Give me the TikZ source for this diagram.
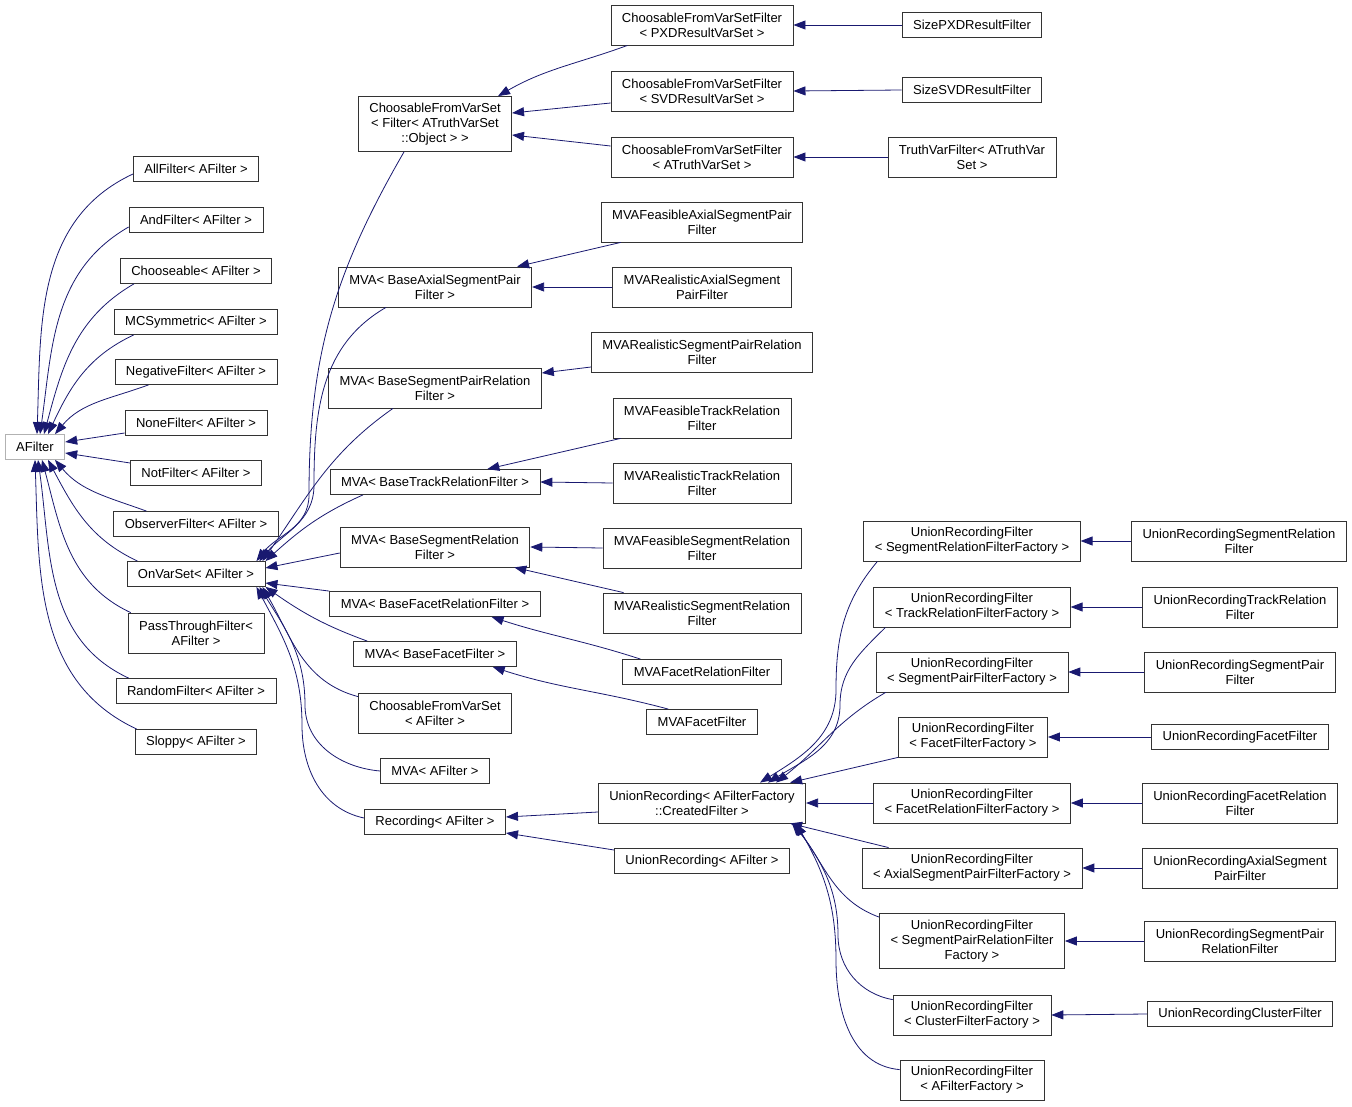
\documentclass[tikz,border=0pt]{standalone}
\usepackage{fontspec}
\setmainfont{Liberation Sans}
\usepackage{xcolor}
\usetikzlibrary{arrows.meta}
\definecolor{dxnavy}{HTML}{191970}
\tikzset{
  cls/.style={draw=black!80, line width=0.8pt, fill=white, inner xsep=11pt, inner ysep=0pt,
    minimum height=25pt, align=center, font=\fontsize{13}{15}\selectfont},
  twoline/.style={cls, minimum height=40pt},
  threeline/.style={cls, minimum height=55pt},
  rootcls/.style={cls, draw=black!30},
  inh/.style={draw=dxnavy, line width=0.8pt, -{Triangle[length=12pt,width=9pt]}},
}

\begin{document}
\begin{tikzpicture}[x=1pt,y=1pt]
\useasboundingbox (0,0) rectangle (1352,-1107);

% base class
\node[rootcls] (AFilter) at (35,-447) {AFilter};

% first level
\node[cls] (AllF)     at (196,-169) {AllFilter< AFilter >};
\node[cls] (AndF)     at (196,-220) {AndFilter< AFilter >};
\node[cls] (ChooseF)  at (196,-271) {Chooseable< AFilter >};
\node[cls] (MCSymF)   at (196,-322) {MCSymmetric< AFilter >};
\node[cls] (NegF)     at (196,-372) {NegativeFilter< AFilter >};
\node[cls] (NoneF)    at (196,-423) {NoneFilter< AFilter >};
\node[cls] (NotF)     at (196,-473) {NotFilter< AFilter >};
\node[cls] (ObsF)     at (196,-524) {ObserverFilter< AFilter >};
\node[cls] (OnVarSet) at (196,-574) {OnVarSet< AFilter >};
\node[twoline] (PassF) at (196,-633) {PassThroughFilter<\\AFilter >};
\node[cls] (RandF)    at (196,-691) {RandomFilter< AFilter >};
\node[cls] (SloppyF)  at (196,-742) {Sloppy< AFilter >};

% second level
\node[threeline] (CFVSObj) at (435,-124) {ChoosableFromVarSet\\< Filter< ATruthVarSet\\::Object > >};
\node[twoline] (MVAAxial)      at (435,-287) {MVA< BaseAxialSegmentPair\\Filter >};
\node[twoline] (MVASegPairRel) at (435,-388) {MVA< BaseSegmentPairRelation\\Filter >};
\node[cls]     (MVATrackRel)   at (435,-482) {MVA< BaseTrackRelationFilter >};
\node[twoline] (MVASegRel)     at (435,-547) {MVA< BaseSegmentRelation\\Filter >};
\node[cls]     (MVAFacetRel)   at (435,-604) {MVA< BaseFacetRelationFilter >};
\node[cls]     (MVAFacet)      at (435,-654) {MVA< BaseFacetFilter >};
\node[twoline] (CFVSAF)        at (435,-713) {ChoosableFromVarSet\\< AFilter >};
\node[cls]     (MVAAF)         at (435,-771) {MVA< AFilter >};
\node[cls]     (RecAF)         at (435,-822) {Recording< AFilter >};

% third level
\node[twoline] (CFVSFPXD)          at (702,-25)  {ChoosableFromVarSetFilter\\< PXDResultVarSet >};
\node[twoline] (CFVSFSVD)          at (702,-91)  {ChoosableFromVarSetFilter\\< SVDResultVarSet >};
\node[twoline] (CFVSFTruth)        at (702,-157) {ChoosableFromVarSetFilter\\< ATruthVarSet >};
\node[twoline] (MVAFeasAxial)      at (702,-222) {MVAFeasibleAxialSegmentPair\\Filter};
\node[twoline] (MVARealAxial)      at (702,-287) {MVARealisticAxialSegment\\PairFilter};
\node[twoline] (MVARealSegPairRel) at (702,-352) {MVARealisticSegmentPairRelation\\Filter};
\node[twoline] (MVAFeasTrack)      at (702,-418) {MVAFeasibleTrackRelation\\Filter};
\node[twoline] (MVARealTrack)      at (702,-483) {MVARealisticTrackRelation\\Filter};
\node[twoline] (MVAFeasSegRel)     at (702,-548) {MVAFeasibleSegmentRelation\\Filter};
\node[twoline] (MVARealSegRel)     at (702,-613) {MVARealisticSegmentRelation\\Filter};
\node[cls]     (MVAFacetRelF)      at (702,-672) {MVAFacetRelationFilter};
\node[cls]     (MVAFacetF)         at (702,-722) {MVAFacetFilter};
\node[twoline] (URCreated)         at (702,-803) {UnionRecording< AFilterFactory\\::CreatedFilter >};
\node[cls]     (URAF)              at (702,-861) {UnionRecording< AFilter >};

% fourth level
\node[cls]     (SizePXD)       at (972,-25)   {SizePXDResultFilter};
\node[cls]     (SizeSVD)       at (972,-90)   {SizeSVDResultFilter};
\node[twoline] (TruthVar)      at (972,-157)  {TruthVarFilter< ATruthVar\\Set >};
\node[twoline] (URFSegRel)     at (972,-541)  {UnionRecordingFilter\\< SegmentRelationFilterFactory >};
\node[twoline] (URFTrack)      at (972,-607)  {UnionRecordingFilter\\< TrackRelationFilterFactory >};
\node[twoline] (URFSegPair)    at (972,-672)  {UnionRecordingFilter\\< SegmentPairFilterFactory >};
\node[twoline] (URFFacet)      at (973,-737)  {UnionRecordingFilter\\< FacetFilterFactory >};
\node[twoline] (URFFacetRel)   at (972,-803)  {UnionRecordingFilter\\< FacetRelationFilterFactory >};
\node[twoline] (URFAxial)      at (972,-868)  {UnionRecordingFilter\\< AxialSegmentPairFilterFactory >};
\node[threeline] (URFSegPairRel) at (972,-941) {UnionRecordingFilter\\< SegmentPairRelationFilter\\Factory >};
\node[twoline] (URFCluster)    at (972,-1015) {UnionRecordingFilter\\< ClusterFilterFactory >};
\node[twoline] (URFAFF)        at (972,-1080) {UnionRecordingFilter\\< AFilterFactory >};

% fifth level
\node[twoline] (URSegRel)     at (1239,-541) {UnionRecordingSegmentRelation\\Filter};
\node[twoline] (URTrack)      at (1240,-607) {UnionRecordingTrackRelation\\Filter};
\node[twoline] (URSegPair)    at (1240,-672) {UnionRecordingSegmentPair\\Filter};
\node[cls]     (URFacet)      at (1240,-737) {UnionRecordingFacetFilter};
\node[twoline] (URFacetRel)   at (1240,-803) {UnionRecordingFacetRelation\\Filter};
\node[twoline] (URAxial)      at (1240,-868) {UnionRecordingAxialSegment\\PairFilter};
\node[twoline] (URSegPairRel) at (1240,-941) {UnionRecordingSegmentPair\\RelationFilter};
\node[cls]     (URCluster)    at (1240,-1014) {UnionRecordingClusterFilter};

% edges into AFilter
\draw[inh] ([yshift=-5pt]AllF.west) to[out=205,in=88] ([xshift=2pt]AFilter.north);
\draw[inh] ([yshift=-7pt]AndF.west) to[out=210,in=82] ([xshift=5pt]AFilter.north);
\draw[inh] ([xshift=14pt]ChooseF.south west) to[out=210,in=75] ([xshift=9pt]AFilter.north);
\draw[inh] ([xshift=20pt]MCSymF.south west) to[out=205,in=65] ([xshift=13pt]AFilter.north);
\draw[inh] ([xshift=34pt]NegF.south west) to[out=200,in=50] ([xshift=20pt]AFilter.north);
\draw[inh] ([yshift=-10pt]NoneF.west) -- ([yshift=5pt]AFilter.east);
\draw[inh] ([yshift=10pt]NotF.west) -- ([yshift=-6pt]AFilter.east);
\draw[inh] ([xshift=33pt]ObsF.north west) to[out=160,in=-50] ([xshift=20pt]AFilter.south);
\draw[inh] ([xshift=11pt]OnVarSet.north west) to[out=155,in=-62] ([xshift=13pt]AFilter.south);
\draw[inh] ([xshift=3pt]PassF.north west) to[out=155,in=-75] ([xshift=7pt]AFilter.south);
\draw[inh] ([xshift=13pt]RandF.north west) to[out=155,in=-82] ([xshift=3pt]AFilter.south);
\draw[inh] ([xshift=2pt]SloppyF.north west) to[out=155,in=-88] (AFilter.south);

% edges into OnVarSet
\draw[inh] ([xshift=-31pt]CFVSObj.south) to[out=-120,in=90] (309,-495)
  to[out=-90,in=52] ([xshift=-9pt]OnVarSet.north east);
\draw[inh] ([xshift=-49pt]MVAAxial.south) to[out=-150,in=90] (314,-485)
  to[out=-90,in=50] ([xshift=-6pt]OnVarSet.north east);
\draw[inh] ([xshift=-42pt]MVASegPairRel.south) to[out=-145,in=55] ([xshift=-3pt]OnVarSet.north east);
\draw[inh] ([xshift=-72pt]MVATrackRel.south) to[out=-156,in=42] (OnVarSet.north east);
\draw[inh] ([yshift=-6pt]MVASegRel.west) -- ([yshift=6pt]OnVarSet.east);
\draw[inh] (MVAFacetRel.north west) -- ([yshift=-9pt]OnVarSet.east);
\draw[inh] ([xshift=14pt]MVAFacet.north west) to[out=160,in=-35] (OnVarSet.south east);
\draw[inh] ([yshift=-4pt]CFVSAF.north west) to[out=165,in=-60] ([xshift=-3pt]OnVarSet.south east);
\draw[inh] (MVAAF.west) to[out=175,in=-90] (305,-705)
  to[out=90,in=-58] ([xshift=-6pt]OnVarSet.south east);
\draw[inh] ([yshift=4pt]RecAF.west) to[out=168,in=-90] (302,-725)
  to[out=90,in=-62] ([xshift=-9pt]OnVarSet.south east);

% edges into ChoosableFromVarSet
\draw[inh] ([xshift=17pt]CFVSFPXD.south west) to[out=200,in=30] ([xshift=-14pt]CFVSObj.north east);
\draw[inh] ([yshift=-12pt]CFVSFSVD.west) -- ([yshift=11pt]CFVSObj.east);
\draw[inh] ([yshift=11pt]CFVSFTruth.west) -- ([yshift=-11pt]CFVSObj.east);

% edges into the MVA classes
\draw[inh] ([xshift=20pt]MVAFeasAxial.south west) -- ([xshift=-15pt]MVAAxial.north east);
\draw[inh] ([yshift=-15pt]MVARealSegPairRel.west) -- ([yshift=15pt]MVASegPairRel.east);
\draw[inh] ([xshift=8pt]MVAFeasTrack.south west) -- ([xshift=-53pt]MVATrackRel.north east);
\draw[inh] ([xshift=21pt]MVARealSegRel.north west) -- ([xshift=-16pt]MVASegRel.south east);
\draw[inh] ([xshift=18pt]MVAFacetRelF.north west) to[out=162,in=-18] ([xshift=-49pt]MVAFacetRel.south east);
\draw[inh] ([xshift=22pt]MVAFacetF.north west) to[out=165,in=-18] ([xshift=-24pt]MVAFacet.south east);

% edges into Recording
\draw[inh] ([yshift=-9pt]URCreated.west) -- ([yshift=5pt]RecAF.east);
\draw[inh] ([yshift=11pt]URAF.west) -- ([yshift=-11pt]RecAF.east);

% edges into UnionRecording< AFilterFactory::CreatedFilter >
\draw[inh] ([xshift=14pt]URFSegRel.south west) to[out=-130,in=90] (836,-690)
  to[out=-90,in=32] ([xshift=-46pt]URCreated.north east);
\draw[inh] ([xshift=12pt]URFTrack.south west) to[out=-135,in=90] (840,-705)
  to[out=-90,in=32] ([xshift=-38pt]URCreated.north east);
\draw[inh] ([xshift=10pt]URFSegPair.south west) to[out=-150,in=38] ([xshift=-30pt]URCreated.north east);
\draw[inh] (URFFacet.south west) -- ([xshift=-16pt]URCreated.north east);
\draw[inh] ([xshift=27pt]URFAxial.north west) -- ([xshift=-16pt]URCreated.south east);
\draw[inh] ([yshift=-4pt]URFSegPairRel.north west) to[out=160,in=-50] ([xshift=-14pt]URCreated.south east);
\draw[inh] ([yshift=-5pt]URFCluster.north west) to[out=170,in=-90] (838,-935)
  to[out=90,in=-55] ([xshift=-12pt]URCreated.south east);
\draw[inh] ([yshift=-10pt]URFAFF.north west) to[out=175,in=-90] (836,-960)
  to[out=90,in=-60] ([xshift=-10pt]URCreated.south east);

% straight edges between neighbouring columns
\foreach \child/\parent in {SizePXD/CFVSFPXD, SizeSVD/CFVSFSVD, TruthVar/CFVSFTruth,
    MVARealAxial/MVAAxial, MVARealTrack/MVATrackRel, MVAFeasSegRel/MVASegRel,
    URFFacetRel/URCreated,
    URSegRel/URFSegRel, URTrack/URFTrack, URSegPair/URFSegPair, URFacet/URFFacet,
    URFacetRel/URFFacetRel, URAxial/URFAxial, URSegPairRel/URFSegPairRel, URCluster/URFCluster}
  \draw[inh] (\child.west) -- (\parent.east);
\end{tikzpicture}
\end{document}
